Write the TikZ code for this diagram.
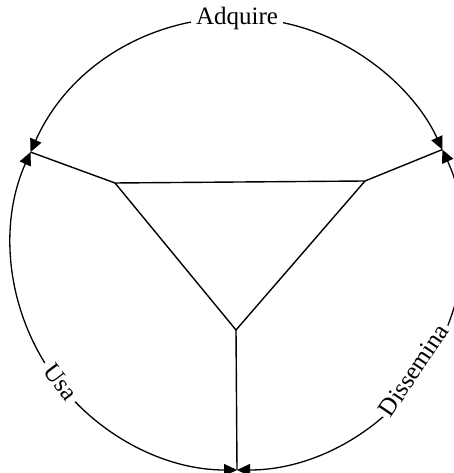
\documentclass[tikz,border=0pt]{standalone}
\usepackage{fontspec}
\setmainfont{Liberation Serif}
\usetikzlibrary{arrows.meta}
\begin{document}
\begin{tikzpicture}[x=1pt,y=1pt,
  ring/.style={line width=1.3pt, {Triangle[length=13pt,width=12pt]}-{Triangle[length=13pt,width=12pt]}},
  spoke/.style={line width=1.4pt},
  arclabel/.style={fill=white, inner sep=5pt, font=\fontsize{25}{30}\selectfont}]
\useasboundingbox (0,0) rectangle (454,473);
\begin{scope}[shift={(237,229)}]
  \coordinate (L) at (156:226);
  \coordinate (R) at (24.7:226);
  \coordinate (Bt) at (270:226);
  \coordinate (Tq) at (90:226);
  \coordinate (Tu) at (218:224);
  \coordinate (Td) at (-35.5:217);
\end{scope}
\coordinate (A) at (115,290);
\coordinate (B) at (365,292);
\coordinate (C) at (236,143);
% triangle and spokes
\draw[spoke] (A) -- (B) -- (C) -- cycle;
\draw[spoke] (A) -- (L);
\draw[spoke] (B) -- (R);
\draw[spoke] (C) -- (Bt);
% ring arcs
\draw[ring] (L) arc[start angle=156, end angle=24.7, radius=226pt];
\draw[ring] (L) arc[start angle=156, end angle=270, radius=226pt];
\draw[ring] (Bt) arc[start angle=270, end angle=384.7, radius=226pt];
% labels
\node[arclabel] (adq) at (Tq) {Adquire};
\node[arclabel, rotate=-53] (usa) at (Tu) {Usa};
\node[arclabel, inner sep=3pt, rotate=56] (dis) at (Td) {Dissemina};
\end{tikzpicture}
\end{document}
